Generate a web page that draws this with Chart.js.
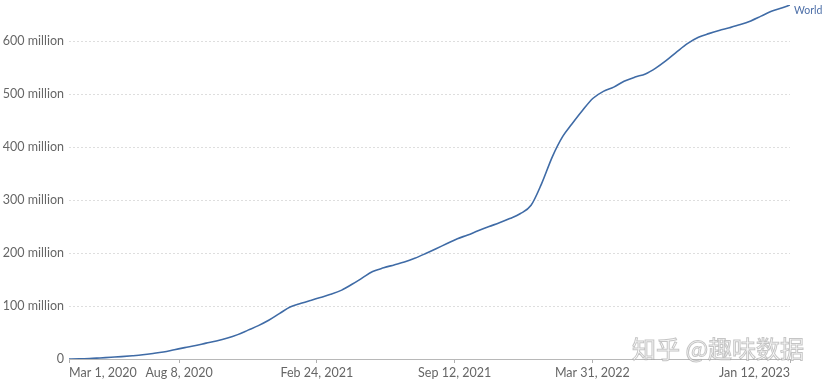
<!DOCTYPE html>
<html>
<head>
<meta charset="utf-8">
<script src="https://cdn.jsdelivr.net/npm/chart.js@4.4.1/dist/chart.umd.min.js"></script>
<style>
html,body{margin:0;padding:0;background:#fff;}
#wrap{width:830px;height:384px;position:relative;}
</style>
</head>
<body>
<div id="wrap"><canvas id="c" width="830" height="384"></canvas></div>
<script>
// days since Mar 1, 2020
const days = [0,15,30,45,61,76,92,107,122,137,153,168,184,199,214,229,245,260,275,290,306,321,337,352,365,380,396,411,426,441,457,472,487,502,518,533,549,564,579,594,610,625,640,655,671,686,702,717,730,745,761,776,791,806,822,837,852,867,883,898,914,929,944,959,975,990,1005,1020,1036,1047];
// cumulative confirmed cases, millions
const cases = [0.09,0.17,0.8,2.0,3.3,4.5,6.1,7.9,10.4,13.3,17.5,21.5,25.5,29.9,34.0,39.0,46.0,54.5,63.0,73.0,86.0,98.0,105.0,111.0,116.0,122.0,130.0,141.0,153.0,165.0,172.0,177.5,183.0,190.0,199.0,208.0,218.0,227.0,234.0,242.0,250.0,257.0,265.0,274.0,290.0,330.0,382.0,420.0,443.0,468.0,492.0,505.0,513.0,524.0,532.0,538.0,549.0,563.0,580.0,595.0,607.0,614.0,620.0,625.0,631.0,638.0,647.0,656.0,663.0,668.0];
const seriesName = "World";
const xTickDays = [0,160,360,560,760,1047];
const xTickLabels = ["Mar 1, 2020","Aug 8, 2020","Feb 24, 2021","Sep 12, 2021","Mar 31, 2022","Jan 12, 2023"];
const yTicks = [0,100,200,300,400,500,600];
const watermark = "知乎 @趣味数据";

const LINE = '#3f6ba6';
const FONT = 'Lato, "Noto Sans", sans-serif';

const overlay = {
  id:'overlay',
  afterDraw(chart){
    const ctx = chart.ctx;
    const xs = chart.scales.x;
    ctx.save();
    ctx.font = '12.5px ' + FONT;
    ctx.fillStyle = '#666';
    ctx.textBaseline = 'alphabetic';
    xTickDays.forEach((d,i)=>{
      const px = xs.getPixelForValue(d);
      ctx.textAlign = i===0 ? 'left' : (i===xTickDays.length-1 ? 'right' : 'center');
      ctx.fillText(xTickLabels[i], px, 377);
    });
    // series label
    const meta = chart.getDatasetMeta(0);
    const last = meta.data[meta.data.length-1];
    ctx.font = '10.5px ' + FONT;
    ctx.fillStyle = '#4d6fa8';
    ctx.textAlign = 'left';
    ctx.textBaseline = 'middle';
    ctx.fillText(seriesName, last.x + 4, last.y + 6);
    // watermark
    ctx.font = '24px "Noto Sans CJK SC", sans-serif';
    ctx.textAlign = 'left';
    ctx.textBaseline = 'alphabetic';
    ctx.fillStyle = 'rgba(255,255,255,0.85)';
    ctx.strokeStyle = 'rgba(140,140,140,0.5)';
    ctx.lineWidth = 1;
    ctx.fillText(watermark, 632, 358);
    ctx.strokeText(watermark, 632, 358);
    ctx.restore();
  }
};

new Chart(document.getElementById('c'), {
  type:'line',
  data:{
    datasets:[{
      label: seriesName,
      data: days.map((d,i)=>({x:d, y:cases[i]})),
      borderColor: LINE,
      borderWidth: 1.6,
      pointRadius: 0,
      fill: false,
      cubicInterpolationMode: 'monotone'
    }]
  },
  options:{
    responsive:false,
    animation:false,
    layout:{padding:{left:0,right:40,top:5,bottom:0}},
    plugins:{legend:{display:false},tooltip:{enabled:false}},
    scales:{
      x:{
        type:'linear',
        min:0, max:1047,
        afterBuildTicks(s){ s.ticks = xTickDays.map(v=>({value:v})); },
        afterFit(s){ s.height = 25; s.paddingLeft = 0; s.paddingRight = 0; },
        ticks:{autoSkip:false, maxRotation:0, callback:()=>'', padding:0},
        grid:{display:true, drawOnChartArea:false, drawTicks:true, tickLength:4, color:'#b0b0b0'},
        border:{display:true, color:'#b8b8b8', width:1}
      },
      y:{
        type:'linear',
        min:0, max:668,
        afterBuildTicks(s){ s.ticks = yTicks.map(v=>({value:v})); },
        afterFit(s){ s.width = 69; s.paddingTop = 0; s.paddingBottom = 0; },
        ticks:{
          color:'#666',
          padding:5,
          font:{family:FONT, size:12.5},
          callback:(v)=> v===0 ? '0' : v + ' million'
        },
        grid:{color:'#dedede', drawTicks:false, lineWidth:1},
        border:{display:false, dash:[2,2]}
      }
    }
  },
  plugins:[overlay]
});
</script>
</body>
</html>
